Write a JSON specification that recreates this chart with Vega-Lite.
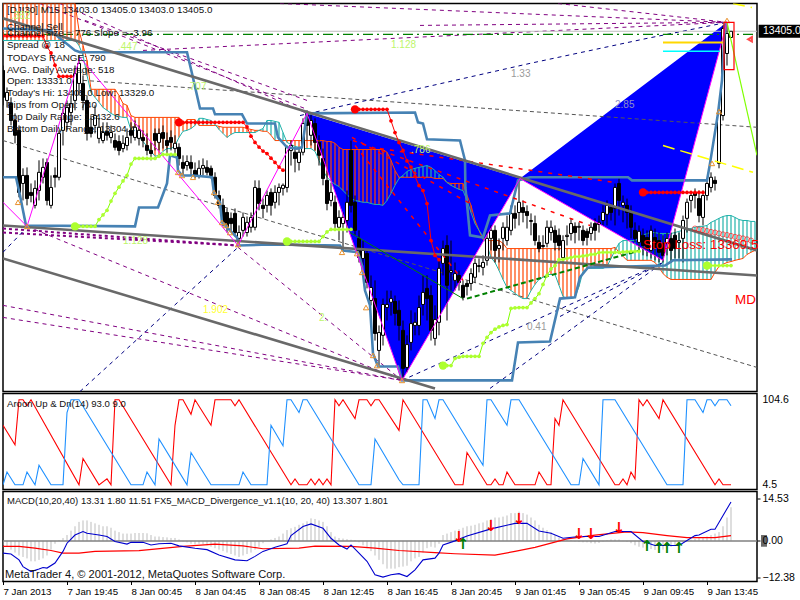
{"$schema":"https://vega.github.io/schema/vega-lite/v6.json","background":"white","padding":{"left":1,"top":2.5,"right":0,"bottom":0},"spacing":2,"bounds":"flush",
"config":{"view":{"stroke":"black","strokeWidth":1.5},"font":"Liberation Sans","axis":{"grid":false,"domain":false,"title":null,"labelFont":"Liberation Sans","labelColor":"black","tickColor":"black"}},
"datasets":{
"candles":[
{"b":0,"o":13392.3,"h":13393.9,"l":13381,"c":13383.6},{"b":1,"o":13382.6,"h":13386.8,"l":13380.3,"c":13385.2},{"b":2,"o":13381.6,"h":13383.6,"l":13374.5,"c":13376.1},{"b":3,"o":13376.1,"h":13378.4,"l":13368.7,"c":13371.3},{"b":4,"o":13372.9,"h":13374.5,"l":13351.2,"c":13352.8},{"b":5,"o":13355.7,"h":13360.6,"l":13350.2,"c":13358.3},{"b":6,"o":13358.3,"h":13360.9,"l":13348.6,"c":13350.8},{"b":7,"o":13352.8,"h":13355.7,"l":13349.6,"c":13351.8},{"b":8,"o":13348.6,"h":13356.7,"l":13347.6,"c":13354.1},{"b":9,"o":13353.4,"h":13363.2,"l":13350.2,"c":13359.3},
{"b":10,"o":13357.7,"h":13363.8,"l":13355.7,"c":13360.9},{"b":11,"o":13362.5,"h":13363.8,"l":13348.6,"c":13350.2},{"b":12,"o":13348.6,"h":13358.3,"l":13347.6,"c":13354.4},{"b":13,"o":13358.3,"h":13360.9,"l":13354.4,"c":13357.7},{"b":14,"o":13357.7,"h":13372.9,"l":13356.7,"c":13371.9},{"b":15,"o":13372.9,"h":13380,"l":13368,"c":13378.4},{"b":16,"o":13375.5,"h":13382.6,"l":13372.9,"c":13380.3},{"b":17,"o":13378.7,"h":13384.2,"l":13374.5,"c":13381.6},{"b":18,"o":13382.6,"h":13393.9,"l":13379.4,"c":13391.3},{"b":19,"o":13388.1,"h":13397.2,"l":13384.2,"c":13394.6},
{"b":20,"o":13388.1,"h":13390.7,"l":13379.4,"c":13382.6},{"b":21,"o":13382.6,"h":13384.2,"l":13369.6,"c":13371.9},{"b":22,"o":13373.9,"h":13377.7,"l":13370.6,"c":13371.9},{"b":23,"o":13374.5,"h":13381,"l":13371.9,"c":13377.7},{"b":24,"o":13370.3,"h":13376.8,"l":13368.7,"c":13373.9},{"b":25,"o":13369.6,"h":13375.5,"l":13368.7,"c":13372.2},{"b":26,"o":13372.6,"h":13375.5,"l":13369.6,"c":13371.3},{"b":27,"o":13370.6,"h":13374.5,"l":13368.7,"c":13372.2},{"b":28,"o":13369.6,"h":13371.9,"l":13366.4,"c":13367.4},{"b":29,"o":13369.3,"h":13371.3,"l":13364.8,"c":13366.4},
{"b":30,"o":13367,"h":13371.3,"l":13365.8,"c":13368.7},{"b":31,"o":13368,"h":13373.5,"l":13366.4,"c":13370.6},{"b":32,"o":13372.9,"h":13375.5,"l":13368.7,"c":13371.3},{"b":33,"o":13370.6,"h":13376.1,"l":13369.6,"c":13373.9},{"b":34,"o":13370.3,"h":13374.5,"l":13368,"c":13372.9},{"b":35,"o":13370.6,"h":13372.9,"l":13367.4,"c":13369.6},{"b":36,"o":13368,"h":13371.9,"l":13364.8,"c":13366.4},{"b":37,"o":13366.4,"h":13369,"l":13363.2,"c":13365.4},{"b":38,"o":13371.9,"h":13373.5,"l":13366.4,"c":13369.6},{"b":39,"o":13369,"h":13373.5,"l":13366.4,"c":13371.9},
{"b":40,"o":13372.2,"h":13374.5,"l":13367,"c":13370.3},{"b":41,"o":13369.6,"h":13372.2,"l":13364.8,"c":13368},{"b":42,"o":13370.6,"h":13372.9,"l":13366.4,"c":13369},{"b":43,"o":13367,"h":13371.3,"l":13364.8,"c":13368.7},{"b":44,"o":13367.4,"h":13368.7,"l":13361.5,"c":13363.8},{"b":45,"o":13362.5,"h":13364.8,"l":13358.3,"c":13360.6},{"b":46,"o":13361.5,"h":13364.8,"l":13359.9,"c":13362.8},{"b":47,"o":13362.5,"h":13364.8,"l":13358.3,"c":13360.6},{"b":48,"o":13359.9,"h":13362.5,"l":13357.3,"c":13358.3},{"b":49,"o":13358.3,"h":13363.2,"l":13357.3,"c":13360.6},
{"b":50,"o":13360.6,"h":13363.8,"l":13358.3,"c":13361.5},{"b":51,"o":13360.9,"h":13363.2,"l":13358.3,"c":13359.3},{"b":52,"o":13360.6,"h":13361.5,"l":13357.3,"c":13358.3},{"b":53,"o":13357.7,"h":13359.3,"l":13350.8,"c":13351.8},{"b":54,"o":13351.8,"h":13353.4,"l":13347.6,"c":13348.6},{"b":55,"o":13348.6,"h":13350.8,"l":13341.8,"c":13343.1},{"b":56,"o":13346.3,"h":13347.6,"l":13339.8,"c":13341.5},{"b":57,"o":13344.4,"h":13346.3,"l":13340.5,"c":13342.7},{"b":58,"o":13346,"h":13347.6,"l":13338.5,"c":13339.8},{"b":59,"o":13337.9,"h":13342.1,"l":13335.9,"c":13339.8},
{"b":60,"o":13340.5,"h":13346.3,"l":13338.5,"c":13344.7},{"b":61,"o":13339.8,"h":13345,"l":13338.5,"c":13343.1},{"b":62,"o":13341.5,"h":13346.3,"l":13339.8,"c":13344.7},{"b":63,"o":13341.5,"h":13356.7,"l":13340.5,"c":13354.4},{"b":64,"o":13354.1,"h":13356.7,"l":13347,"c":13349.2},{"b":65,"o":13348.6,"h":13350.8,"l":13344.4,"c":13347.6},{"b":66,"o":13348.6,"h":13353.4,"l":13346.3,"c":13351.8},{"b":67,"o":13352.8,"h":13354.1,"l":13345.3,"c":13348.6},{"b":68,"o":13349.6,"h":13355.1,"l":13347.6,"c":13352.8},{"b":69,"o":13352.8,"h":13355.7,"l":13348.6,"c":13354.4},
{"b":70,"o":13354.1,"h":13355.7,"l":13351.8,"c":13355.1},{"b":71,"o":13354.4,"h":13368,"l":13352.8,"c":13367.4},{"b":72,"o":13366.4,"h":13369.6,"l":13361.5,"c":13368},{"b":73,"o":13365.8,"h":13367,"l":13359.3,"c":13363.8},{"b":74,"o":13362.5,"h":13367,"l":13359.9,"c":13365.8},{"b":75,"o":13365.8,"h":13376.8,"l":13364.8,"c":13375.1},{"b":76,"o":13378.4,"h":13379.4,"l":13369.6,"c":13374.5},{"b":77,"o":13371.3,"h":13378.7,"l":13368,"c":13376.1},{"b":78,"o":13375.1,"h":13376.8,"l":13366.4,"c":13369},{"b":79,"o":13369,"h":13371.3,"l":13361.5,"c":13364.8},
{"b":80,"o":13363.8,"h":13367,"l":13355.1,"c":13357.3},{"b":81,"o":13356.7,"h":13359.9,"l":13347,"c":13349.2},{"b":82,"o":13350.2,"h":13356,"l":13348.3,"c":13352.8},{"b":83,"o":13349.6,"h":13351.8,"l":13340.5,"c":13342.7},{"b":84,"o":13341.5,"h":13347,"l":13337.2,"c":13344.7},{"b":85,"o":13342.7,"h":13346.3,"l":13334,"c":13344.7},{"b":86,"o":13343.7,"h":13353.4,"l":13339.8,"c":13349.6},{"b":87,"o":13366.4,"h":13369.6,"l":13346.3,"c":13348.6},{"b":88,"o":13349.6,"h":13351.8,"l":13338.9,"c":13340.5},{"b":89,"o":13337.9,"h":13340.5,"l":13330.1,"c":13331.7},
{"b":90,"o":13331.4,"h":13337.2,"l":13329.1,"c":13334},{"b":91,"o":13333,"h":13334,"l":13321.7,"c":13323.6},{"b":92,"o":13317.8,"h":13325.9,"l":13316.2,"c":13322},{"b":93,"o":13318.4,"h":13324.3,"l":13304.8,"c":13307.1},{"b":94,"o":13301.6,"h":13309.7,"l":13296.7,"c":13307.4},{"b":95,"o":13306.5,"h":13318.4,"l":13303.2,"c":13316.5},{"b":96,"o":13315.5,"h":13321,"l":13311.3,"c":13316.5},{"b":97,"o":13317.2,"h":13321,"l":13312.9,"c":13318.4},{"b":98,"o":13317.5,"h":13319.4,"l":13309.7,"c":13313.6},{"b":99,"o":13314.6,"h":13317.8,"l":13304.8,"c":13309.7},
{"b":100,"o":13308.1,"h":13311.3,"l":13292.5,"c":13295.8},{"b":101,"o":13296.1,"h":13306.5,"l":13294.5,"c":13303.5},{"b":102,"o":13304.2,"h":13314.6,"l":13301.6,"c":13310.3},{"b":103,"o":13309.7,"h":13313.9,"l":13306.5,"c":13310.7},{"b":104,"o":13309.7,"h":13319.4,"l":13306.5,"c":13315.5},{"b":105,"o":13316.5,"h":13325.9,"l":13312.9,"c":13320.4},{"b":106,"o":13321.7,"h":13325.9,"l":13311.3,"c":13318.4},{"b":107,"o":13319.4,"h":13322.7,"l":13304.8,"c":13308.1},{"b":108,"o":13305.5,"h":13316.2,"l":13303.2,"c":13311.6},{"b":109,"o":13310.7,"h":13330.8,"l":13306.5,"c":13328.2},
{"b":110,"o":13329.8,"h":13337.2,"l":13325.9,"c":13334.6},{"b":111,"o":13335.6,"h":13338.9,"l":13311.3,"c":13322.7},{"b":112,"o":13326.9,"h":13337.2,"l":13321,"c":13327.5},{"b":113,"o":13324.3,"h":13330.1,"l":13321,"c":13326.5},{"b":114,"o":13325.9,"h":13327.5,"l":13321,"c":13323.6},{"b":115,"o":13322.7,"h":13324.3,"l":13317.8,"c":13318.8},{"b":116,"o":13323.3,"h":13324.3,"l":13319.4,"c":13322.3},{"b":117,"o":13323.3,"h":13328.2,"l":13321,"c":13326.5},{"b":118,"o":13325.3,"h":13331.4,"l":13323.6,"c":13329.8},{"b":119,"o":13328.8,"h":13331.4,"l":13326.9,"c":13329.1},
{"b":120,"o":13328.5,"h":13332.4,"l":13325.9,"c":13330.1},{"b":121,"o":13330.8,"h":13339.8,"l":13329.1,"c":13337.9},{"b":122,"o":13337.9,"h":13342.1,"l":13334,"c":13340.5},{"b":123,"o":13340.5,"h":13342.1,"l":13330.1,"c":13334},{"b":124,"o":13334.6,"h":13337.9,"l":13330.1,"c":13335.6},{"b":125,"o":13337.9,"h":13343.1,"l":13334,"c":13341.5},{"b":126,"o":13337.2,"h":13345.3,"l":13335.6,"c":13341.5},{"b":127,"o":13340.5,"h":13348.6,"l":13338.9,"c":13346},{"b":128,"o":13346,"h":13348.6,"l":13341.1,"c":13344.4},{"b":129,"o":13346.3,"h":13356.7,"l":13342.1,"c":13349.6},
{"b":130,"o":13347.9,"h":13350.2,"l":13343.1,"c":13346.3},{"b":131,"o":13346.6,"h":13348.6,"l":13341.1,"c":13345.3},{"b":132,"o":13343.4,"h":13346,"l":13338.9,"c":13343.7},{"b":133,"o":13342.7,"h":13345.3,"l":13335.6,"c":13337.2},{"b":134,"o":13336.6,"h":13338.9,"l":13333.4,"c":13334.6},{"b":135,"o":13335.6,"h":13338.9,"l":13334.6,"c":13335.3},{"b":136,"o":13336.3,"h":13343.7,"l":13335,"c":13341.5},{"b":137,"o":13339.8,"h":13343.7,"l":13337.2,"c":13341.5},{"b":138,"o":13340.5,"h":13342.1,"l":13334,"c":13336.6},{"b":139,"o":13338.9,"h":13341.1,"l":13334,"c":13335.6},
{"b":140,"o":13331.7,"h":13338.9,"l":13330.1,"c":13337.2},{"b":141,"o":13338.5,"h":13342.1,"l":13335.6,"c":13338.9},{"b":142,"o":13339.5,"h":13344.4,"l":13337.2,"c":13342.7},{"b":143,"o":13341.8,"h":13343.1,"l":13336.3,"c":13339.8},{"b":144,"o":13341.5,"h":13343.1,"l":13337.2,"c":13341.8},{"b":145,"o":13340.5,"h":13342.1,"l":13335.6,"c":13337.2},{"b":146,"o":13340.2,"h":13341.1,"l":13335.6,"c":13338.2},{"b":147,"o":13339.5,"h":13343.1,"l":13337.2,"c":13341.5},{"b":148,"o":13342.7,"h":13344.4,"l":13337.2,"c":13340.5},{"b":149,"o":13342.4,"h":13345.3,"l":13339.8,"c":13343.1},
{"b":150,"o":13343.7,"h":13348.6,"l":13342.1,"c":13346.3},{"b":151,"o":13345.7,"h":13350.2,"l":13342.1,"c":13348.6},{"b":152,"o":13347.9,"h":13349.2,"l":13343.7,"c":13346.3},{"b":153,"o":13347.6,"h":13355.7,"l":13342.1,"c":13354.4},{"b":154,"o":13355.7,"h":13357.3,"l":13345.3,"c":13350.2},{"b":155,"o":13348.6,"h":13351.8,"l":13343.1,"c":13349.6},{"b":156,"o":13348.6,"h":13350.8,"l":13341.1,"c":13346.3},{"b":157,"o":13346.3,"h":13348.6,"l":13337.9,"c":13341.5},{"b":158,"o":13340.5,"h":13343.1,"l":13336.6,"c":13337.9},{"b":159,"o":13336.6,"h":13342.1,"l":13334,"c":13340.2},
{"b":160,"o":13338.9,"h":13341.1,"l":13332.4,"c":13335.6},{"b":161,"o":13338.2,"h":13340.5,"l":13332.1,"c":13334.6},{"b":162,"o":13334,"h":13342.1,"l":13331.4,"c":13340.5},{"b":163,"o":13338.2,"h":13341.1,"l":13330.8,"c":13335},{"b":164,"o":13337.2,"h":13339.8,"l":13330.1,"c":13333.4},{"b":165,"o":13336.3,"h":13338.9,"l":13330.1,"c":13332.4},{"b":166,"o":13336.3,"h":13339.8,"l":13332.4,"c":13337.9},{"b":167,"o":13337.9,"h":13339.8,"l":13330.1,"c":13334},{"b":168,"o":13338.9,"h":13341.1,"l":13331.4,"c":13334.6},{"b":169,"o":13336.6,"h":13339.8,"l":13331.4,"c":13337.2},
{"b":170,"o":13337.9,"h":13345.3,"l":13330.1,"c":13343.7},{"b":171,"o":13344.4,"h":13350.8,"l":13339.8,"c":13349.6},{"b":172,"o":13350.2,"h":13352.8,"l":13346.3,"c":13351.8},{"b":173,"o":13352.8,"h":13354.1,"l":13347.6,"c":13351.8},{"b":174,"o":13350.8,"h":13353.4,"l":13343.1,"c":13345.3},{"b":175,"o":13344.7,"h":13353.4,"l":13342.1,"c":13351.8},{"b":176,"o":13351.8,"h":13357.3,"l":13350.2,"c":13355.7},{"b":177,"o":13354.4,"h":13359.3,"l":13352.8,"c":13357.7},{"b":178,"o":13356.7,"h":13358,"l":13353.4,"c":13355.7},{"b":179,"o":13362.2,"h":13381,"l":13360.6,"c":13379.4},
{"b":180,"o":13377.7,"h":13406.9,"l":13376.1,"c":13405.9},{"b":181,"o":13397.8,"h":13407.9,"l":13393.9,"c":13404.3},{"b":182,"o":13403,"h":13405,"l":13403,"c":13405}],
"cloud":[
{"b":0,"a":13414,"t":13402},{"b":1,"a":13414,"t":13402},{"b":2,"a":13414,"t":13402},{"b":3,"a":13414,"t":13402},{"b":4,"a":13414,"t":13402},{"b":5,"a":13414,"t":13402},{"b":6,"a":13414,"t":13402},{"b":7,"a":13414,"t":13402},{"b":8,"a":13414,"t":13402},{"b":9,"a":13414,"t":13402},{"b":10,"a":13414,"t":13402},{"b":11,"a":13414,"t":13402},{"b":12,"a":13414,"t":13402},{"b":13,"a":13414,"t":13402},{"b":14,"a":13414,"t":13402},{"b":15,"a":13414,"t":13402},{"b":16,"a":13414,"t":13402},{"b":17,"a":13414,"t":13402},{"b":18,"a":13414,"t":13402},{"b":19,"a":13405.3,"t":13400.4},{"b":20,"a":13400.4,"t":13397.2},{"b":21,"a":13395.6,"t":13390.7},{"b":22,"a":13386.2,"t":13385.2},{"b":23,"a":13386.2,"t":13383.6},{"b":24,"a":13386.2,"t":13382},{"b":25,"a":13386.2,"t":13380.3},{"b":26,"a":13386.2,"t":13379.4},{"b":27,"a":13386.2,"t":13378.4},{"b":28,"a":13386.2,"t":13377.7},{"b":29,"a":13384.2,"t":13377.4},{"b":30,"a":13381.6,"t":13377.1},{"b":31,"a":13381,"t":13377.1},{"b":32,"a":13377.7,"t":13372.9},{"b":33,"a":13377.1,"t":13370.9},{"b":34,"a":13377.1,"t":13370.6},{"b":35,"a":13377.1,"t":13369.3},{"b":36,"a":13377.1,"t":13367.7},{"b":37,"a":13377.1,"t":13366.1},{"b":38,"a":13377.1,"t":13364.5},{"b":39,"a":13377.1,"t":13364.8},{"b":40,"a":13377.1,"t":13366.1},{"b":41,"a":13377.1,"t":13367},{"b":42,"a":13377.1,"t":13367},{"b":43,"a":13377.1,"t":13368},{"b":44,"a":13377.1,"t":13370.6},{"b":45,"a":13374.5,"t":13372.6},{"b":46,"a":13376.4,"t":13372.9},{"b":47,"a":13376.4,"t":13373.5},{"b":48,"a":13376.4,"t":13374.5},{"b":49,"a":13374.5,"t":13376.8},{"b":50,"a":13374.5,"t":13376.8},{"b":51,"a":13374.5,"t":13376.4},{"b":52,"a":13374.5,"t":13376.1},{"b":53,"a":13374.5,"t":13374.8},{"b":54,"a":13374.2,"t":13373.2},{"b":55,"a":13373.9,"t":13371.9},{"b":56,"a":13373.9,"t":13370.6},{"b":57,"a":13373.9,"t":13371.6},{"b":58,"a":13373.9,"t":13372.2},{"b":59,"a":13373.9,"t":13372.2},{"b":60,"a":13373.9,"t":13372.2},{"b":61,"a":13373.5,"t":13372.2},{"b":62,"a":13373.2,"t":13372.2},{"b":63,"a":13372.9,"t":13372.2},{"b":64,"a":13372.9,"t":13372.9},{"b":65,"a":13372.6,"t":13373.5},{"b":66,"a":13372.6,"t":13376.1},{"b":67,"a":13371.3,"t":13376.1},{"b":68,"a":13369.6,"t":13375.8},{"b":69,"a":13369.6,"t":13375.5},{"b":70,"a":13369.6,"t":13372.2},{"b":71,"a":13369.6,"t":13369},{"b":72,"a":13369.6,"t":13368.3},{"b":73,"a":13369.6,"t":13367.7},{"b":74,"a":13369.6,"t":13367.4},{"b":75,"a":13369.6,"t":13367},{"b":76,"a":13369.6,"t":13367},{"b":77,"a":13369.6,"t":13367},{"b":78,"a":13369.6,"t":13366.1},{"b":79,"a":13369.6,"t":13363.2},{"b":80,"a":13369.6,"t":13359.9},{"b":81,"a":13369.3,"t":13357.7},{"b":82,"a":13369.3,"t":13356.4},{"b":83,"a":13368.7,"t":13355.4},{"b":84,"a":13367.4,"t":13354.7},{"b":85,"a":13366.7,"t":13353.4},{"b":86,"a":13366.7,"t":13352.1},{"b":87,"a":13366.7,"t":13350.8},{"b":88,"a":13366.7,"t":13350.2},{"b":89,"a":13366.7,"t":13349.9},{"b":90,"a":13366.7,"t":13349.6},{"b":91,"a":13366.7,"t":13349.6},{"b":92,"a":13366.7,"t":13349.2},{"b":93,"a":13366.7,"t":13348.9},{"b":94,"a":13366.7,"t":13348.9},{"b":95,"a":13366.7,"t":13348.6},{"b":96,"a":13365.8,"t":13350.2},{"b":97,"a":13363.2,"t":13352.5},{"b":98,"a":13359.9,"t":13355.1},{"b":99,"a":13357.7,"t":13357.3},{"b":100,"a":13357.7,"t":13358.3},{"b":101,"a":13357.7,"t":13359.6},{"b":102,"a":13357.7,"t":13360.2},{"b":103,"a":13357.7,"t":13360.6},{"b":104,"a":13357.7,"t":13360.9},{"b":105,"a":13357.7,"t":13361.2},{"b":106,"a":13357.7,"t":13361.5},{"b":107,"a":13357.7,"t":13360.9},{"b":108,"a":13357.3,"t":13359.9},{"b":109,"a":13357.3,"t":13358.6},{"b":110,"a":13357.3,"t":13357.7},{"b":111,"a":13356,"t":13356},{"b":112,"a":13355.7,"t":13355.1},{"b":113,"a":13355.7,"t":13354.4},{"b":114,"a":13355.7,"t":13353.8},{"b":115,"a":13355.7,"t":13353.4},{"b":116,"a":13351.8,"t":13350.2},{"b":117,"a":13348.6,"t":13346.3},{"b":118,"a":13343.7,"t":13342.7},{"b":119,"a":13340.5,"t":13340.5},{"b":120,"a":13337.6,"t":13338.5},{"b":121,"a":13337.2,"t":13335.6},{"b":122,"a":13337.2,"t":13331.7},{"b":123,"a":13337.2,"t":13330.1},{"b":124,"a":13337.2,"t":13327.5},{"b":125,"a":13336.3,"t":13324.6},{"b":126,"a":13334.6,"t":13322},{"b":127,"a":13334.6,"t":13321},{"b":128,"a":13334.6,"t":13320.1},{"b":129,"a":13334.6,"t":13319.1},{"b":130,"a":13334.6,"t":13318.4},{"b":131,"a":13334.6,"t":13318.4},{"b":132,"a":13334.6,"t":13321},{"b":133,"a":13334.6,"t":13323},{"b":134,"a":13334.6,"t":13324.6},{"b":135,"a":13334.6,"t":13325.3},{"b":136,"a":13334.6,"t":13326.2},{"b":137,"a":13334.6,"t":13326.2},{"b":138,"a":13334.6,"t":13326.2},{"b":139,"a":13334.6,"t":13322.7},{"b":140,"a":13334.6,"t":13319.1},{"b":141,"a":13334.6,"t":13318.4},{"b":142,"a":13334.6,"t":13318.4},{"b":143,"a":13334.6,"t":13318.8},{"b":144,"a":13334.6,"t":13322.3},{"b":145,"a":13334.6,"t":13327.2},{"b":146,"a":13334.6,"t":13328.2},{"b":147,"a":13334.6,"t":13328.2},{"b":148,"a":13334.6,"t":13328.2},{"b":149,"a":13334.6,"t":13328.2},{"b":150,"a":13334.6,"t":13328.2},{"b":151,"a":13334.6,"t":13328.8},{"b":152,"a":13334.6,"t":13331.4},{"b":153,"a":13335,"t":13334},{"b":154,"a":13333.4,"t":13336.3},{"b":155,"a":13332.1,"t":13337.2},{"b":156,"a":13330.8,"t":13337.2},{"b":157,"a":13330.8,"t":13337.2},{"b":158,"a":13330.8,"t":13337.2},{"b":159,"a":13330.8,"t":13337.9},{"b":160,"a":13330.8,"t":13338.9},{"b":161,"a":13330.8,"t":13339.5},{"b":162,"a":13330.8,"t":13339.8},{"b":163,"a":13330.1,"t":13339.8},{"b":164,"a":13328.5,"t":13339.5},{"b":165,"a":13326.5,"t":13339.5},{"b":166,"a":13325.3,"t":13339.5},{"b":167,"a":13324.6,"t":13339.5},{"b":168,"a":13324.6,"t":13339.8},{"b":169,"a":13324.6,"t":13340.2},{"b":170,"a":13324.6,"t":13340.5},{"b":171,"a":13324.6,"t":13340.8},{"b":172,"a":13324.6,"t":13341.1},{"b":173,"a":13324.6,"t":13341.5},{"b":174,"a":13324.6,"t":13341.8},{"b":175,"a":13324.6,"t":13341.8},{"b":176,"a":13324.6,"t":13342.1},{"b":177,"a":13324.6,"t":13343.1},{"b":178,"a":13326.9,"t":13343.7},{"b":179,"a":13328.8,"t":13344.4},{"b":180,"a":13329.5,"t":13345},{"b":181,"a":13330.1,"t":13345.3},{"b":182,"a":13330.4,"t":13345.3},{"b":183,"a":13330.8,"t":13344.7},{"b":184,"a":13331.1,"t":13344},{"b":185,"a":13331.4,"t":13343.7},{"b":186,"a":13332.7,"t":13343.7},{"b":187,"a":13333.4,"t":13343.4},{"b":188,"a":13334,"t":13343.4}],
"lines":[
{"g":"gray","s":"A","b":0,"p":13409.2},{"g":"gray","s":"A","b":188.5,"p":13334},{"g":"gray","s":"B","b":0,"p":13342.1},{"g":"gray","s":"B","b":188.5,"p":13325.9},{"g":"gray","s":"C","b":0,"p":13331.4},{"g":"gray","s":"C","b":108,"p":13289.3},
{"g":"steel","s":"lo","b":0,"p":13357.7},{"g":"steel","s":"lo","b":3.25,"p":13357.7},{"g":"steel","s":"lo","b":4.25,"p":13351.8},{"g":"steel","s":"lo","b":5.75,"p":13342.1},{"g":"steel","s":"lo","b":33,"p":13341.8},{"g":"steel","s":"lo","b":34,"p":13347.9},{"g":"steel","s":"lo","b":38.75,"p":13347.9},{"g":"steel","s":"lo","b":41,"p":13355.7},{"g":"steel","s":"lo","b":41.75,"p":13364.8},{"g":"steel","s":"lo","b":43.5,"p":13364.1},{"g":"steel","s":"lo","b":43.75,"p":13359.9},{"g":"steel","s":"lo","b":44.75,"p":13358.3},{"g":"steel","s":"lo","b":47.5,"p":13358.3},{"g":"steel","s":"lo","b":52.25,"p":13357.7},{"g":"steel","s":"lo","b":52.75,"p":13352.5},{"g":"steel","s":"lo","b":54.25,"p":13349.6},{"g":"steel","s":"lo","b":54.75,"p":13343.1},{"g":"steel","s":"lo","b":56.75,"p":13340.5},{"g":"steel","s":"lo","b":58.5,"p":13338.2},{"g":"steel","s":"lo","b":59,"p":13335.6},{"g":"steel","s":"lo","b":66.75,"p":13335.9},{"g":"steel","s":"lo","b":84.25,"p":13335.6},{"g":"steel","s":"lo","b":85,"p":13334},{"g":"steel","s":"lo","b":88.75,"p":13333.4},{"g":"steel","s":"lo","b":89.75,"p":13329.1},{"g":"steel","s":"lo","b":90.5,"p":13321},{"g":"steel","s":"lo","b":91.75,"p":13316.2},{"g":"steel","s":"lo","b":92.5,"p":13300.6},{"g":"steel","s":"lo","b":93.75,"p":13296.4},{"g":"steel","s":"lo","b":98.75,"p":13296.4},{"g":"steel","s":"lo","b":99.75,"p":13291.9},{"g":"steel","s":"lo","b":127.25,"p":13291.9},{"g":"steel","s":"lo","b":128.75,"p":13304.2},{"g":"steel","s":"lo","b":136.75,"p":13304.5},{"g":"steel","s":"lo","b":139.25,"p":13318.4},{"g":"steel","s":"lo","b":143,"p":13318.8},{"g":"steel","s":"lo","b":144.25,"p":13325.3},{"g":"steel","s":"lo","b":146.25,"p":13328.5},{"g":"steel","s":"lo","b":165.5,"p":13329.1},{"g":"steel","s":"lo","b":167.5,"p":13330.8},{"g":"steel","s":"lo","b":182.25,"p":13331.1},
{"g":"steel","s":"hi","b":0,"p":13405.9},{"g":"steel","s":"hi","b":11.75,"p":13405.3},{"g":"steel","s":"hi","b":18,"p":13398.8},{"g":"steel","s":"hi","b":19.25,"p":13398.2},{"g":"steel","s":"hi","b":46,"p":13398.2},{"g":"steel","s":"hi","b":47.25,"p":13391.3},{"g":"steel","s":"hi","b":49.25,"p":13380},{"g":"steel","s":"hi","b":52.5,"p":13380},{"g":"steel","s":"hi","b":53,"p":13378.1},{"g":"steel","s":"hi","b":59.75,"p":13378.1},{"g":"steel","s":"hi","b":61,"p":13375.1},{"g":"steel","s":"hi","b":68,"p":13375.1},{"g":"steel","s":"hi","b":68.75,"p":13370.6},{"g":"steel","s":"hi","b":71,"p":13367.4},{"g":"steel","s":"hi","b":73.5,"p":13367},{"g":"steel","s":"hi","b":74.75,"p":13367.4},{"g":"steel","s":"hi","b":76,"p":13378.4},{"g":"steel","s":"hi","b":103,"p":13378.7},{"g":"steel","s":"hi","b":103.75,"p":13375.5},{"g":"steel","s":"hi","b":105,"p":13375.1},{"g":"steel","s":"hi","b":106,"p":13370},{"g":"steel","s":"hi","b":114.25,"p":13369.6},{"g":"steel","s":"hi","b":115.5,"p":13363.2},{"g":"steel","s":"hi","b":115.6,"p":13354.4},{"g":"steel","s":"hi","b":116.75,"p":13338.9},{"g":"steel","s":"hi","b":120,"p":13338.2},{"g":"steel","s":"hi","b":121.75,"p":13345.3},{"g":"steel","s":"hi","b":126.75,"p":13346},{"g":"steel","s":"hi","b":128.75,"p":13356.7},{"g":"steel","s":"hi","b":131.75,"p":13357.7},{"g":"steel","s":"hi","b":156.25,"p":13357.7},{"g":"steel","s":"hi","b":157.25,"p":13356.7},{"g":"steel","s":"hi","b":176,"p":13356.7},{"g":"steel","s":"hi","b":176.75,"p":13362.2},{"g":"steel","s":"hi","b":178.75,"p":13378.4},{"g":"steel","s":"hi","b":179.75,"p":13389.1},{"g":"steel","s":"hi","b":180.5,"p":13407.5},
{"g":"zig","s":"z","b":0,"p":13349.6},{"g":"zig","s":"z","b":6,"p":13341.8},{"g":"zig","s":"z","b":19.25,"p":13396.5},{"g":"zig","s":"z","b":58.75,"p":13335.6},{"g":"zig","s":"z","b":76,"p":13378.4},{"g":"zig","s":"z","b":99.75,"p":13291.9},{"g":"zig","s":"z","b":129.25,"p":13357.3},{"g":"zig","s":"z","b":165,"p":13330.8},{"g":"zig","s":"z","b":181,"p":13407.9},
{"g":"purple","s":"p1","b":9.25,"p":13414},{"g":"purple","s":"p1","b":76,"p":13379.7},{"g":"purple","s":"p2","b":14.25,"p":13414},{"g":"purple","s":"p2","b":76,"p":13378.4},{"g":"purple","s":"p3","b":20.5,"p":13408.5},{"g":"purple","s":"p3","b":76,"p":13382.6},{"g":"purple","s":"p4","b":0,"p":13316.2},{"g":"purple","s":"p4","b":99.75,"p":13291.9},{"g":"purple","s":"p5","b":0,"p":13312.3},{"g":"purple","s":"p5","b":99.75,"p":13291.9},{"g":"purple","s":"p6","b":6,"p":13341.8},{"g":"purple","s":"p6","b":99.75,"p":13291.9},{"g":"purple","s":"p7","b":58.75,"p":13335},{"g":"purple","s":"p7","b":99.75,"p":13291.9},{"g":"purple","s":"p10","b":69.25,"p":13414},{"g":"purple","s":"p10","b":181,"p":13407.9},{"g":"purple","s":"p11","b":138.75,"p":13414},{"g":"purple","s":"p11","b":181,"p":13407.9},{"g":"purple","s":"p12","b":35,"p":13398.8},{"g":"purple","s":"p12","b":181,"p":13407.9},{"g":"purple","s":"p14","b":104.25,"p":13406.9},{"g":"purple","s":"p14","b":181,"p":13407.9},
{"g":"purplethick","s":"p8","b":0,"p":13341.1},{"g":"purplethick","s":"p8","b":58.75,"p":13335.6},{"g":"purplethick","s":"p9","b":0,"p":13339.8},{"g":"purplethick","s":"p9","b":58.75,"p":13335.6},
{"g":"reddash","s":"r1","b":87.5,"p":13369.6},{"g":"reddash","s":"r1","b":146.75,"p":13342.1},{"g":"reddash","s":"r2","b":94.25,"p":13367},{"g":"reddash","s":"r2","b":153,"p":13356},{"g":"reddash","s":"r3","b":88,"p":13368},{"g":"reddash","s":"r3","b":115,"p":13324.3},{"g":"reddash","s":"r4","b":87.25,"p":13370.6},{"g":"reddash","s":"r4","b":116.75,"p":13349.2},
{"g":"navy","s":"n1","b":74.25,"p":13377.7},{"g":"navy","s":"n1","b":101.75,"p":13385.8},{"g":"navy","s":"n1","b":131.75,"p":13394.6},{"g":"navy","s":"n1","b":161,"p":13402.7},{"g":"navy","s":"n1","b":181,"p":13407.9},{"g":"navy","s":"n2","b":0,"p":13333.4},{"g":"navy","s":"n2","b":6,"p":13341.5},{"g":"navy","s":"n3","b":19.25,"p":13288.3},{"g":"navy","s":"n3","b":58.75,"p":13335},{"g":"navy","s":"n4","b":99.75,"p":13291.9},{"g":"navy","s":"n4","b":165,"p":13330.1},{"g":"navy","s":"n5","b":121.75,"p":13289.3},{"g":"navy","s":"n5","b":165,"p":13330.1},{"g":"navy","s":"n6","b":139.25,"p":13312.6},{"g":"navy","s":"n6","b":165,"p":13330.1},
{"g":"graydash","s":"g1","b":20,"p":13389.1},{"g":"graydash","s":"g1","b":188.5,"p":13373.9},{"g":"graydash","s":"g2","b":0,"p":13369.6},{"g":"graydash","s":"g2","b":188.5,"p":13296.1},
{"g":"green","s":"v1","b":86.75,"p":13339.8},{"g":"green","s":"v1","b":115,"p":13318.4},
{"g":"greendash","s":"v2","b":116,"p":13318.4},{"g":"greendash","s":"v2","b":159.25,"p":13334},
{"g":"gold","s":"y1","b":165,"p":13401.4},{"g":"gold","s":"y1","b":180,"p":13401.4},
{"g":"cyan","s":"c1","b":165,"p":13398.5},{"g":"cyan","s":"c1","b":179.25,"p":13398.5},
{"g":"yellow","s":"y2","b":165,"p":13368},{"g":"yellow","s":"y2","b":187.5,"p":13359.3},{"g":"yellow","s":"y3","b":182.5,"p":13414},{"g":"yellow","s":"y3","b":187.25,"p":13412.7},
{"g":"lime","s":"l1","b":181,"p":13407.9},{"g":"lime","s":"l1","b":188.5,"p":13364.8},
{"g":"silver","s":"h1","b":0,"p":13405},{"g":"silver","s":"h1","b":188.5,"p":13405},
{"g":"greenhoriz","s":"h2","b":0,"p":13404},{"g":"greenhoriz","s":"h2","b":188.5,"p":13404}],
"blue":[{"b":76,"p":13378.4,"q":13378.4},{"b":99.75,"p":13369,"q":13291.9},{"b":129.25,"p":13357.3,"q":13357.3},{"b":165,"p":13392.3,"q":13330.8},{"b":181,"p":13407.9,"q":13407.9}],
"dots":[
{"g":"lime","s":"a","b":18,"p":13341.8},{"g":"lime","s":"a","b":19,"p":13341.8},{"g":"lime","s":"a","b":20,"p":13341.8},{"g":"lime","s":"a","b":21,"p":13341.8},{"g":"lime","s":"a","b":22,"p":13341.8},{"g":"lime","s":"a","b":23,"p":13341.8},{"g":"lime","s":"a","b":24,"p":13344},{"g":"lime","s":"a","b":25,"p":13345.5},{"g":"lime","s":"a","b":26,"p":13347},{"g":"lime","s":"a","b":27,"p":13350},{"g":"lime","s":"a","b":28,"p":13352.5},{"g":"lime","s":"a","b":29,"p":13354.5},{"g":"lime","s":"a","b":30,"p":13356.5},{"g":"lime","s":"a","b":31,"p":13358.3},{"g":"lime","s":"a","b":32,"p":13362},{"g":"lime","s":"a","b":33,"p":13363.8},{"g":"lime","s":"a","b":34,"p":13363.8},{"g":"lime","s":"a","b":35,"p":13363.8},{"g":"lime","s":"a","b":36,"p":13363.8},{"g":"lime","s":"a","b":37,"p":13363.8},{"g":"lime","s":"a","b":38,"p":13363.8},{"g":"lime","s":"a","b":39,"p":13364.5},{"g":"lime","s":"a","b":40,"p":13365.1},{"g":"lime","s":"a","b":41,"p":13365.1},{"g":"lime","s":"a","b":42,"p":13365.1},{"g":"lime","s":"a","b":43,"p":13365.1},
{"g":"lime","s":"b","b":71,"p":13336.9},{"g":"lime","s":"b","b":72,"p":13336.9},{"g":"lime","s":"b","b":73,"p":13336.9},{"g":"lime","s":"b","b":74,"p":13336.9},{"g":"lime","s":"b","b":75,"p":13336.9},{"g":"lime","s":"b","b":76,"p":13336.9},{"g":"lime","s":"b","b":77,"p":13336.9},{"g":"lime","s":"b","b":78,"p":13336.9},{"g":"lime","s":"b","b":79,"p":13336.9},{"g":"lime","s":"b","b":80,"p":13338.5},{"g":"lime","s":"b","b":81,"p":13340},{"g":"lime","s":"b","b":82,"p":13340.8},{"g":"lime","s":"b","b":83,"p":13340.8},{"g":"lime","s":"b","b":84,"p":13340.8},{"g":"lime","s":"b","b":85,"p":13340.8},{"g":"lime","s":"b","b":86,"p":13340.8},{"g":"lime","s":"b","b":87,"p":13340.8},
{"g":"lime","s":"c","b":110,"p":13296.7},{"g":"lime","s":"c","b":111,"p":13296.7},{"g":"lime","s":"c","b":112,"p":13296.7},{"g":"lime","s":"c","b":113,"p":13299},{"g":"lime","s":"c","b":114,"p":13299.4},{"g":"lime","s":"c","b":115,"p":13299.7},{"g":"lime","s":"c","b":116,"p":13299.7},{"g":"lime","s":"c","b":117,"p":13299.7},{"g":"lime","s":"c","b":118,"p":13299.7},{"g":"lime","s":"c","b":119,"p":13299.7},{"g":"lime","s":"c","b":120,"p":13303.9},{"g":"lime","s":"c","b":121,"p":13305.8},{"g":"lime","s":"c","b":122,"p":13307.4},{"g":"lime","s":"c","b":123,"p":13308.5},{"g":"lime","s":"c","b":124,"p":13309.2},{"g":"lime","s":"c","b":125,"p":13309.7},{"g":"lime","s":"c","b":126,"p":13310},{"g":"lime","s":"c","b":127,"p":13315.2},{"g":"lime","s":"c","b":128,"p":13315.4},{"g":"lime","s":"c","b":129,"p":13315.5},{"g":"lime","s":"c","b":130,"p":13315.5},{"g":"lime","s":"c","b":131,"p":13315.5},{"g":"lime","s":"c","b":132,"p":13317},{"g":"lime","s":"c","b":133,"p":13318.4},{"g":"lime","s":"c","b":134,"p":13320},{"g":"lime","s":"c","b":135,"p":13323},{"g":"lime","s":"c","b":136,"p":13325.9},{"g":"lime","s":"c","b":137,"p":13328},{"g":"lime","s":"c","b":138,"p":13329.1},{"g":"lime","s":"c","b":139,"p":13331},{"g":"lime","s":"c","b":140,"p":13331.1},{"g":"lime","s":"c","b":141,"p":13331.4},{"g":"lime","s":"c","b":142,"p":13331.7},{"g":"lime","s":"c","b":143,"p":13332},{"g":"lime","s":"c","b":144,"p":13332},{"g":"lime","s":"c","b":145,"p":13332.2},{"g":"lime","s":"c","b":146,"p":13332.4},{"g":"lime","s":"c","b":147,"p":13332.7},{"g":"lime","s":"c","b":148,"p":13332.8},{"g":"lime","s":"c","b":149,"p":13333.3},{"g":"lime","s":"c","b":150,"p":13333.4},{"g":"lime","s":"c","b":151,"p":13333.4},{"g":"lime","s":"c","b":152,"p":13333.4},{"g":"lime","s":"c","b":153,"p":13333.4},{"g":"lime","s":"c","b":154,"p":13333.4},{"g":"lime","s":"c","b":155,"p":13333.5},{"g":"lime","s":"c","b":156,"p":13333.6},{"g":"lime","s":"c","b":157,"p":13333.7},{"g":"lime","s":"c","b":158,"p":13333.7},{"g":"lime","s":"c","b":159,"p":13333.7},
{"g":"lime","s":"d","b":176,"p":13329.1},{"g":"lime","s":"d","b":177,"p":13329.1},{"g":"lime","s":"d","b":178,"p":13329.1},{"g":"lime","s":"d","b":179,"p":13329.1},{"g":"lime","s":"d","b":180,"p":13329.1},{"g":"lime","s":"d","b":181,"p":13329.1},{"g":"lime","s":"d","b":182,"p":13329.1},
{"g":"red","s":"e","b":0,"p":13403.5},{"g":"red","s":"e","b":1,"p":13403.5},{"g":"red","s":"e","b":2,"p":13403.5},{"g":"red","s":"e","b":3,"p":13403.5},{"g":"red","s":"e","b":4,"p":13403.5},{"g":"red","s":"e","b":5,"p":13403.5},{"g":"red","s":"e","b":6,"p":13403.5},{"g":"red","s":"e","b":7,"p":13403.5},{"g":"red","s":"e","b":8,"p":13403.5},{"g":"red","s":"e","b":9,"p":13403.5},{"g":"red","s":"e","b":10,"p":13403.5},{"g":"red","s":"e","b":11,"p":13400},{"g":"red","s":"e","b":12,"p":13398},{"g":"red","s":"e","b":13,"p":13394},{"g":"red","s":"e","b":14,"p":13390.4},{"g":"red","s":"e","b":15,"p":13390.4},{"g":"red","s":"e","b":16,"p":13390.4},{"g":"red","s":"e","b":17,"p":13390.4},
{"g":"red","s":"f","b":44,"p":13375.5},{"g":"red","s":"f","b":45,"p":13375.5},{"g":"red","s":"f","b":46,"p":13375.5},{"g":"red","s":"f","b":47,"p":13375.5},{"g":"red","s":"f","b":48,"p":13375.5},{"g":"red","s":"f","b":49,"p":13375.5},{"g":"red","s":"f","b":50,"p":13375.5},{"g":"red","s":"f","b":51,"p":13375.5},{"g":"red","s":"f","b":52,"p":13375.5},{"g":"red","s":"f","b":53,"p":13375.5},{"g":"red","s":"f","b":54,"p":13375.5},{"g":"red","s":"f","b":55,"p":13375.5},{"g":"red","s":"f","b":56,"p":13375.5},{"g":"red","s":"f","b":57,"p":13375.5},{"g":"red","s":"f","b":58,"p":13375.5},{"g":"red","s":"f","b":59,"p":13375.5},{"g":"red","s":"f","b":60,"p":13375.5},{"g":"red","s":"f","b":61,"p":13374},{"g":"red","s":"f","b":62,"p":13371},{"g":"red","s":"f","b":63,"p":13369},{"g":"red","s":"f","b":64,"p":13367.5},{"g":"red","s":"f","b":65,"p":13366.2},{"g":"red","s":"f","b":66,"p":13365.4},{"g":"red","s":"f","b":67,"p":13363.9},{"g":"red","s":"f","b":68,"p":13362.5},{"g":"red","s":"f","b":69,"p":13361},{"g":"red","s":"f","b":70,"p":13360},
{"g":"red","s":"h","b":88,"p":13379.7},{"g":"red","s":"h","b":89,"p":13379.7},{"g":"red","s":"h","b":90,"p":13379.7},{"g":"red","s":"h","b":91,"p":13379.7},{"g":"red","s":"h","b":92,"p":13379.7},{"g":"red","s":"h","b":93,"p":13379.7},{"g":"red","s":"h","b":94,"p":13379.7},{"g":"red","s":"h","b":95,"p":13379.7},{"g":"red","s":"h","b":96,"p":13379.7},{"g":"red","s":"h","b":97,"p":13376},{"g":"red","s":"h","b":98,"p":13372.2},{"g":"red","s":"h","b":99,"p":13369},{"g":"red","s":"h","b":100,"p":13366.4},{"g":"red","s":"h","b":101,"p":13363},{"g":"red","s":"h","b":102,"p":13361},{"g":"red","s":"h","b":103,"p":13358},{"g":"red","s":"h","b":104,"p":13355},{"g":"red","s":"h","b":105,"p":13353.4},{"g":"red","s":"h","b":106,"p":13349.2},{"g":"red","s":"h","b":107,"p":13337.2},{"g":"red","s":"h","b":108,"p":13332.4},{"g":"red","s":"h","b":109,"p":13331},
{"g":"red","s":"i","b":160,"p":13352.8},{"g":"red","s":"i","b":161,"p":13352.8},{"g":"red","s":"i","b":162,"p":13352.8},{"g":"red","s":"i","b":163,"p":13352.8},{"g":"red","s":"i","b":164,"p":13352.8},{"g":"red","s":"i","b":165,"p":13352.8},{"g":"red","s":"i","b":166,"p":13352.8},{"g":"red","s":"i","b":167,"p":13352.8},{"g":"red","s":"i","b":168,"p":13352.8},{"g":"red","s":"i","b":169,"p":13352.8},{"g":"red","s":"i","b":170,"p":13352.8},{"g":"red","s":"i","b":171,"p":13352.8},{"g":"red","s":"i","b":172,"p":13352.8},{"g":"red","s":"i","b":173,"p":13352.8},{"g":"red","s":"i","b":174,"p":13352.8},{"g":"red","s":"i","b":175,"p":13352.8}],
"starts":[{"g":"lime","b":18,"p":13341.8},{"g":"lime","b":71,"p":13336.9},{"g":"lime","b":110,"p":13296.7},{"g":"lime","b":176,"p":13329.1},{"g":"red","b":44,"p":13375.5},{"g":"red","b":88,"p":13379.7},{"g":"red","b":160,"p":13352.8}],
"fractals":[{"b":3.75,"p":13349.6},{"b":6,"p":13341.8},{"b":43.75,"p":13359.3},{"b":44.75,"p":13358.3},{"b":47.5,"p":13357.7},{"b":52.75,"p":13352.8},{"b":53.75,"p":13349.6},{"b":54.75,"p":13343.1},{"b":55.75,"p":13342.1},{"b":56.75,"p":13339.8},{"b":58.75,"p":13335.9},{"b":84.75,"p":13333.4},{"b":88.5,"p":13333},{"b":89.75,"p":13326.9},{"b":90.75,"p":13315.5},{"b":92.5,"p":13300},{"b":93.5,"p":13296.7},{"b":99.75,"p":13291.9},{"b":177.25,"p":13362.2},{"b":179,"p":13379},{"b":181,"p":13408.5}],
"stops":[{"b":173,"p":13341.1},{"b":174,"p":13340.8},{"b":175,"p":13340.6},{"b":176,"p":13340.3},{"b":177,"p":13340},{"b":178,"p":13339.8},{"b":179,"p":13339.5},{"b":180,"p":13339.2},{"b":181,"p":13339},{"b":182,"p":13338.7},{"b":183,"p":13338.4},{"b":184,"p":13338.2},{"b":185,"p":13337.9},{"b":186,"p":13337.6},{"b":187,"p":13337.2}],
"info":[{"b":1,"p":13411.8,"t":"[DJI30] M15  13403.0 13405.0 13403.0 13405.0"},{"b":1,"p":13406.3,"t":"Channel Sell"},{"b":1,"p":13404.3,"t":"Channel size = 776  Slope = -3.96"},{"b":1,"p":13400.4,"t":"Spread @ 18"},{"b":1,"p":13396.5,"t":"TODAYS RANGE: 790"},{"b":1,"p":13392.6,"t":"AVG. Daily Average: 518"},{"b":1,"p":13388.8,"t":"Open: 13331.0"},{"b":1,"p":13384.9,"t":"Today's Hi: 13405.0  Low: 13329.0"},{"b":1,"p":13381,"t":"Pips from Open: 740"},{"b":1,"p":13377.1,"t":"Top Daily Range: 13432.6"},{"b":1,"p":13373.2,"t":"Bottom Daily Range: 13304.4"}],
"fibs":[{"b":2,"p":13410.1,"t":".382","k":"pale"},{"b":28.75,"p":13399.8,"t":".447","k":"pale"},{"b":46,"p":13386.8,"t":".707","k":"pale"},{"b":30,"p":13336.9,"t":"1.128","k":"pale"},{"b":50,"p":13314.6,"t":"1.902","k":"yellow"},{"b":79,"p":13312,"t":"2.","k":"pale"},{"b":102,"p":13366.4,"t":".786","k":"pale"},{"b":97,"p":13400.7,"t":"1.128","k":"pale"},{"b":127,"p":13391.3,"t":"1.33","k":"gray"},{"b":153,"p":13381,"t":"2.85","k":"dim"},{"b":131,"p":13309.1,"t":"0.41","k":"gray"}],
"aroon":[
{"s":"dn","b":0,"v":70},{"s":"dn","b":3,"v":47},{"s":"dn","b":4,"v":100},{"s":"dn","b":5,"v":100},{"s":"dn","b":6,"v":93},{"s":"dn","b":7,"v":100},{"s":"dn","b":19,"v":0},{"s":"dn","b":20,"v":31},{"s":"dn","b":24,"v":0},{"s":"dn","b":26,"v":7},{"s":"dn","b":27,"v":0},{"s":"dn","b":28,"v":100},{"s":"dn","b":29,"v":100},{"s":"dn","b":42,"v":0},{"s":"dn","b":43,"v":70},{"s":"dn","b":44,"v":100},{"s":"dn","b":45,"v":100},{"s":"dn","b":47,"v":83},{"s":"dn","b":48,"v":100},{"s":"dn","b":52,"v":70},{"s":"dn","b":53,"v":100},{"s":"dn","b":57,"v":100},{"s":"dn","b":58,"v":93},{"s":"dn","b":59,"v":100},{"s":"dn","b":72,"v":0},{"s":"dn","b":73,"v":7},{"s":"dn","b":74,"v":0},{"s":"dn","b":76,"v":0},{"s":"dn","b":77,"v":7},{"s":"dn","b":78,"v":0},{"s":"dn","b":79,"v":7},{"s":"dn","b":80,"v":0},{"s":"dn","b":81,"v":7},{"s":"dn","b":82,"v":0},{"s":"dn","b":83,"v":100},{"s":"dn","b":84,"v":93},{"s":"dn","b":85,"v":100},{"s":"dn","b":88,"v":78},{"s":"dn","b":89,"v":100},{"s":"dn","b":91,"v":100},{"s":"dn","b":92,"v":93},{"s":"dn","b":93,"v":100},{"s":"dn","b":94,"v":100},{"s":"dn","b":99,"v":64},{"s":"dn","b":100,"v":100},{"s":"dn","b":113,"v":0},{"s":"dn","b":115,"v":0},{"s":"dn","b":116,"v":38},{"s":"dn","b":121,"v":0},{"s":"dn","b":122,"v":0},{"s":"dn","b":123,"v":7},{"s":"dn","b":124,"v":0},{"s":"dn","b":125,"v":0},{"s":"dn","b":126,"v":15},{"s":"dn","b":128,"v":0},{"s":"dn","b":133,"v":0},{"s":"dn","b":134,"v":15},{"s":"dn","b":136,"v":0},{"s":"dn","b":137,"v":0},{"s":"dn","b":138,"v":78},{"s":"dn","b":139,"v":70},{"s":"dn","b":140,"v":100},{"s":"dn","b":153,"v":0},{"s":"dn","b":154,"v":0},{"s":"dn","b":155,"v":7},{"s":"dn","b":156,"v":0},{"s":"dn","b":157,"v":15},{"s":"dn","b":158,"v":7},{"s":"dn","b":159,"v":100},{"s":"dn","b":160,"v":93},{"s":"dn","b":161,"v":100},{"s":"dn","b":164,"v":78},{"s":"dn","b":165,"v":100},{"s":"dn","b":178,"v":0},{"s":"dn","b":179,"v":7},{"s":"dn","b":180,"v":0},{"s":"dn","b":182,"v":0},
{"s":"up","b":0,"v":0},{"s":"up","b":1,"v":15},{"s":"up","b":3,"v":0},{"s":"up","b":5,"v":0},{"s":"up","b":6,"v":15},{"s":"up","b":8,"v":0},{"s":"up","b":9,"v":23},{"s":"up","b":12,"v":0},{"s":"up","b":15,"v":0},{"s":"up","b":16,"v":85},{"s":"up","b":17,"v":100},{"s":"up","b":19,"v":100},{"s":"up","b":32,"v":0},{"s":"up","b":35,"v":0},{"s":"up","b":36,"v":15},{"s":"up","b":38,"v":0},{"s":"up","b":39,"v":54},{"s":"up","b":46,"v":0},{"s":"up","b":47,"v":38},{"s":"up","b":52,"v":0},{"s":"up","b":59,"v":0},{"s":"up","b":60,"v":15},{"s":"up","b":62,"v":0},{"s":"up","b":66,"v":0},{"s":"up","b":67,"v":70},{"s":"up","b":70,"v":46},{"s":"up","b":71,"v":100},{"s":"up","b":72,"v":100},{"s":"up","b":74,"v":85},{"s":"up","b":75,"v":100},{"s":"up","b":76,"v":100},{"s":"up","b":89,"v":0},{"s":"up","b":92,"v":0},{"s":"up","b":93,"v":54},{"s":"up","b":99,"v":6},{"s":"up","b":100,"v":0},{"s":"up","b":104,"v":0},{"s":"up","b":105,"v":100},{"s":"up","b":106,"v":100},{"s":"up","b":108,"v":78},{"s":"up","b":109,"v":100},{"s":"up","b":110,"v":100},{"s":"up","b":120,"v":23},{"s":"up","b":121,"v":100},{"s":"up","b":122,"v":100},{"s":"up","b":126,"v":70},{"s":"up","b":127,"v":100},{"s":"up","b":129,"v":100},{"s":"up","b":142,"v":0},{"s":"up","b":144,"v":0},{"s":"up","b":145,"v":31},{"s":"up","b":149,"v":0},{"s":"up","b":150,"v":100},{"s":"up","b":153,"v":100},{"s":"up","b":166,"v":0},{"s":"up","b":170,"v":0},{"s":"up","b":171,"v":100},{"s":"up","b":173,"v":100},{"s":"up","b":175,"v":85},{"s":"up","b":176,"v":100},{"s":"up","b":177,"v":100},{"s":"up","b":178,"v":93},{"s":"up","b":179,"v":100},{"s":"up","b":181,"v":100},{"s":"up","b":182,"v":93}],
"hist":[{"b":0,"v":-1.5},{"b":1,"v":-2},{"b":2,"v":-3},{"b":3,"v":-4},{"b":4,"v":-5},{"b":5,"v":-5.5},{"b":6,"v":-6},{"b":7,"v":-7},{"b":8,"v":-7},{"b":9,"v":-6.5},{"b":10,"v":-6},{"b":11,"v":-5},{"b":12,"v":-3},{"b":13,"v":-1},{"b":14,"v":0.3},{"b":15,"v":1},{"b":16,"v":2},{"b":17,"v":3.5},{"b":18,"v":5},{"b":19,"v":6.5},{"b":20,"v":7},{"b":21,"v":7},{"b":22,"v":6.5},{"b":23,"v":6},{"b":24,"v":5.5},{"b":25,"v":5},{"b":26,"v":5},{"b":27,"v":4.5},{"b":28,"v":3.5},{"b":29,"v":3},{"b":30,"v":2.5},{"b":31,"v":2.5},{"b":32,"v":2.5},{"b":33,"v":2.7},{"b":34,"v":2.7},{"b":35,"v":2.7},{"b":36,"v":2.6},{"b":37,"v":2},{"b":38,"v":1.5},{"b":39,"v":1.5},{"b":40,"v":1.3},{"b":41,"v":1.2},{"b":42,"v":1},{"b":43,"v":1},{"b":44,"v":0.5},{"b":45,"v":-0.2},{"b":46,"v":-0.5},{"b":47,"v":-1},{"b":48,"v":-1.2},{"b":49,"v":-1},{"b":50,"v":-1.1},{"b":51,"v":-1.5},{"b":52,"v":-2},{"b":53,"v":-2.5},{"b":54,"v":-3},{"b":55,"v":-3.5},{"b":56,"v":-4},{"b":57,"v":-4.5},{"b":58,"v":-5},{"b":59,"v":-5.5},{"b":60,"v":-5},{"b":61,"v":-4.5},{"b":62,"v":-4},{"b":63,"v":-3},{"b":64,"v":-2},{"b":65,"v":-0.8},{"b":66,"v":0},{"b":67,"v":0.5},{"b":68,"v":1},{"b":69,"v":1.5},{"b":70,"v":2.5},{"b":71,"v":3.7},{"b":72,"v":4.3},{"b":73,"v":4.8},{"b":74,"v":5.5},{"b":75,"v":6},{"b":76,"v":6.7},{"b":77,"v":7.7},{"b":78,"v":7.5},{"b":79,"v":7},{"b":80,"v":6.5},{"b":81,"v":5},{"b":82,"v":3},{"b":83,"v":1.5},{"b":84,"v":1},{"b":85,"v":0.8},{"b":86,"v":0.6},{"b":87,"v":0.4},{"b":88,"v":0.3},{"b":89,"v":-0.5},{"b":90,"v":-1.5},{"b":91,"v":-2.5},{"b":92,"v":-3.5},{"b":93,"v":-5},{"b":94,"v":-6.5},{"b":95,"v":-8},{"b":96,"v":-9.5},{"b":97,"v":-9.5},{"b":98,"v":-9.5},{"b":99,"v":-9},{"b":100,"v":-8.8},{"b":101,"v":-8.5},{"b":102,"v":-7},{"b":103,"v":-6},{"b":104,"v":-5.5},{"b":105,"v":-4},{"b":106,"v":-2.5},{"b":107,"v":-2},{"b":108,"v":-2.3},{"b":109,"v":-1},{"b":110,"v":2},{"b":111,"v":2.5},{"b":112,"v":3},{"b":113,"v":3.5},{"b":114,"v":4},{"b":115,"v":4.5},{"b":116,"v":5},{"b":117,"v":5.2},{"b":118,"v":5.5},{"b":119,"v":6},{"b":120,"v":6.3},{"b":121,"v":7},{"b":122,"v":7.5},{"b":123,"v":8},{"b":124,"v":8},{"b":125,"v":8.3},{"b":126,"v":8.7},{"b":127,"v":9.5},{"b":128,"v":9.5},{"b":129,"v":10},{"b":130,"v":9.5},{"b":131,"v":9},{"b":132,"v":8},{"b":133,"v":7},{"b":134,"v":5.5},{"b":135,"v":4.5},{"b":136,"v":3.7},{"b":137,"v":3},{"b":138,"v":2},{"b":139,"v":1.2},{"b":140,"v":0.7},{"b":141,"v":0.4},{"b":142,"v":0.2},{"b":143,"v":-0.2},{"b":144,"v":-0.4},{"b":145,"v":-0.5},{"b":146,"v":-0.5},{"b":147,"v":-0.8},{"b":148,"v":-0.9},{"b":149,"v":-0.7},{"b":150,"v":-0.2},{"b":151,"v":0.2},{"b":152,"v":0.5},{"b":153,"v":0.5},{"b":154,"v":0.5},{"b":155,"v":-0.1},{"b":156,"v":-0.3},{"b":157,"v":-0.8},{"b":158,"v":-1.5},{"b":159,"v":-2},{"b":160,"v":-2.3},{"b":161,"v":-2.5},{"b":162,"v":-2.8},{"b":163,"v":-3.1},{"b":164,"v":-3.3},{"b":165,"v":-3},{"b":166,"v":-2.7},{"b":167,"v":-2},{"b":168,"v":-1.5},{"b":169,"v":-0.8},{"b":170,"v":-0.3},{"b":171,"v":0.2},{"b":172,"v":0.4},{"b":173,"v":0.7},{"b":174,"v":1},{"b":175,"v":1.3},{"b":176,"v":1.5},{"b":177,"v":2},{"b":178,"v":2.5},{"b":179,"v":3},{"b":180,"v":5},{"b":181,"v":8},{"b":182,"v":11.51}],
"macd":[
{"s":"m","b":0,"v":-4.2},{"s":"m","b":2,"v":-4.5},{"s":"m","b":4,"v":-6.5},{"s":"m","b":5,"v":-8.8},{"s":"m","b":7,"v":-10.5},{"s":"m","b":9,"v":-9.6},{"s":"m","b":10,"v":-9.1},{"s":"m","b":11,"v":-9.3},{"s":"m","b":13,"v":-7.6},{"s":"m","b":15,"v":-3.6},{"s":"m","b":16,"v":-0.8},{"s":"m","b":18,"v":2},{"s":"m","b":20,"v":3.2},{"s":"m","b":21,"v":2.6},{"s":"m","b":24,"v":2},{"s":"m","b":26,"v":1.5},{"s":"m","b":28,"v":-0.2},{"s":"m","b":31,"v":-1.1},{"s":"m","b":32,"v":-0.5},{"s":"m","b":35,"v":-0.5},{"s":"m","b":37,"v":-1.4},{"s":"m","b":39,"v":-1},{"s":"m","b":42,"v":-0.8},{"s":"m","b":44,"v":-1.7},{"s":"m","b":48,"v":-2.5},{"s":"m","b":51,"v":-3},{"s":"m","b":54,"v":-4.8},{"s":"m","b":58,"v":-6.5},{"s":"m","b":61,"v":-6.8},{"s":"m","b":63,"v":-5.3},{"s":"m","b":65,"v":-3.6},{"s":"m","b":68,"v":-2.2},{"s":"m","b":71,"v":-1},{"s":"m","b":72,"v":1.8},{"s":"m","b":75,"v":4.9},{"s":"m","b":77,"v":5.8},{"s":"m","b":80,"v":4.3},{"s":"m","b":82,"v":0.9},{"s":"m","b":84,"v":-1.4},{"s":"m","b":86,"v":-2.8},{"s":"m","b":87,"v":-1.4},{"s":"m","b":89,"v":-4.2},{"s":"m","b":91,"v":-7},{"s":"m","b":93,"v":-11.6},{"s":"m","b":95,"v":-12.4},{"s":"m","b":97,"v":-11.6},{"s":"m","b":99,"v":-11.2},{"s":"m","b":101,"v":-12.2},{"s":"m","b":103,"v":-9.9},{"s":"m","b":105,"v":-6.5},{"s":"m","b":108,"v":-5.9},{"s":"m","b":109,"v":-4.2},{"s":"m","b":110,"v":-1.4},{"s":"m","b":113,"v":0},{"s":"m","b":116,"v":1.7},{"s":"m","b":122,"v":4.1},{"s":"m","b":128,"v":6},{"s":"m","b":131,"v":6},{"s":"m","b":134,"v":3.4},{"s":"m","b":137,"v":2.6},{"s":"m","b":140,"v":0.9},{"s":"m","b":144,"v":1.5},{"s":"m","b":149,"v":1.5},{"s":"m","b":153,"v":3.2},{"s":"m","b":157,"v":3.2},{"s":"m","b":160,"v":-0.2},{"s":"m","b":163,"v":-1.6},{"s":"m","b":169,"v":-1.6},{"s":"m","b":173,"v":1.8},{"s":"m","b":174,"v":2},{"s":"m","b":177,"v":4},{"s":"m","b":178,"v":4},{"s":"m","b":181,"v":11},{"s":"m","b":182,"v":13.31},
{"s":"sig","b":0,"v":-1.9},{"s":"sig","b":4,"v":-1.9},{"s":"sig","b":8,"v":-2.5},{"s":"sig","b":12,"v":-3.3},{"s":"sig","b":15,"v":-4.2},{"s":"sig","b":19,"v":-4.2},{"s":"sig","b":23,"v":-3.6},{"s":"sig","b":34,"v":-3.3},{"s":"sig","b":45,"v":-1.9},{"s":"sig","b":53,"v":-1.1},{"s":"sig","b":60,"v":-1.7},{"s":"sig","b":65,"v":-2.7},{"s":"sig","b":74,"v":-2.5},{"s":"sig","b":78,"v":-1.8},{"s":"sig","b":87,"v":-1.9},{"s":"sig","b":93,"v":-2.5},{"s":"sig","b":99,"v":-3.3},{"s":"sig","b":108,"v":-4},{"s":"sig","b":113,"v":-4.4},{"s":"sig","b":123,"v":-4.9},{"s":"sig","b":128,"v":-3.6},{"s":"sig","b":133,"v":-2.2},{"s":"sig","b":141,"v":0.7},{"s":"sig","b":148,"v":2},{"s":"sig","b":156,"v":3.1},{"s":"sig","b":160,"v":2.8},{"s":"sig","b":166,"v":1.8},{"s":"sig","b":171,"v":1.1},{"s":"sig","b":178,"v":1.1},{"s":"sig","b":182,"v":1.8}],
"arrows":[{"b":114,"v":1.5,"k":"dn","t":"↓"},{"b":122,"v":5,"k":"dn","t":"↓"},{"b":129,"v":7.6,"k":"dn","t":"↓"},{"b":144,"v":2.5,"k":"dn","t":"↓"},{"b":147,"v":2.5,"k":"dn","t":"↓"},{"b":154,"v":4.5,"k":"dn","t":"↓"},{"b":115,"v":-1.2,"k":"up","t":"↑"},{"b":161,"v":-1.8,"k":"up","t":"↑"},{"b":164,"v":-2.4,"k":"up","t":"↑"},{"b":166,"v":-2.4,"k":"up","t":"↑"},{"b":169,"v":-2.4,"k":"up","t":"↑"}]
},
"vconcat":[
{"width":754,"height":388,"data":{"name":"lines"},
"encoding":{"x":{"field":"b","type":"quantitative","scale":{"domain":[0,188.5],"nice":false,"zero":false,"padding":0},"axis":null},"y":{"field":"p","type":"quantitative","scale":{"domain":[13288.3,13414],"nice":false,"zero":false},"axis":{"orient":"right","values":[13410.5,13399.5,13388.5,13378,13367,13356,13345,13334,13323,13312,13301,13290],"format":".1f","labelFontSize":10.5,"tickSize":3,"labelPadding":2}}},
"layer":[
{"data":{"name":"blue"},"mark":{"type":"area","color":"#0000FF","clip":true,"opacity":1},"encoding":{"y2":{"field":"q"}}},
{"transform":[{"filter":"datum.g=='graydash'"}],"mark":{"type":"line","clip":true,"color":"#555555","strokeWidth":1,"strokeDash":[4,3]},"encoding":{"detail":{"field":"s"}}},
{"transform":[{"filter":"datum.g=='purple'"}],"mark":{"type":"line","clip":true,"color":"#800080","strokeWidth":1,"strokeDash":[4,4]},"encoding":{"detail":{"field":"s"}}},
{"transform":[{"filter":"datum.g=='purplethick'"}],"mark":{"type":"line","clip":true,"color":"#800080","strokeWidth":2,"strokeDash":[3,3]},"encoding":{"detail":{"field":"s"}}},
{"transform":[{"filter":"datum.g=='navy'"}],"mark":{"type":"line","clip":true,"color":"#000080","strokeWidth":1,"strokeDash":[4,4]},"encoding":{"detail":{"field":"s"}}},
{"transform":[{"filter":"datum.g=='silver'"}],"mark":{"type":"line","clip":true,"color":"#BEBEBE","strokeWidth":1}},
{"transform":[{"filter":"datum.g=='greenhoriz'"}],"mark":{"type":"line","clip":true,"color":"#008000","strokeWidth":1.2,"strokeDash":[10,4,2,4]}},
{"data":{"name":"cloud"},"mark":{"type":"rule","clip":true,"strokeWidth":1.2},"encoding":{"y":{"field":"a","type":"quantitative","scale":{"domain":[13288.3,13414],"nice":false,"zero":false},"axis":null},"y2":{"field":"t"},"color":{"condition":{"test":"datum.a>datum.t","value":"#FF4500"},"value":"#20B2AA"}}},
{"data":{"name":"cloud"},"mark":{"type":"line","clip":true,"color":"#FF4500","strokeWidth":1},"encoding":{"y":{"field":"a","type":"quantitative","scale":{"domain":[13288.3,13414],"nice":false,"zero":false},"axis":null}}},
{"data":{"name":"cloud"},"mark":{"type":"line","clip":true,"color":"#20B2AA","strokeWidth":1},"encoding":{"y":{"field":"t","type":"quantitative","scale":{"domain":[13288.3,13414],"nice":false,"zero":false},"axis":null}}},
{"data":{"name":"candles"},"mark":{"type":"rule","clip":true,"color":"black","strokeWidth":1},"encoding":{"y":{"field":"h","type":"quantitative","scale":{"domain":[13288.3,13414],"nice":false,"zero":false},"axis":null},"y2":{"field":"l"}}},
{"data":{"name":"candles"},"mark":{"type":"bar","clip":true,"width":3,"stroke":"black","strokeWidth":1},"encoding":{"y":{"field":"o","type":"quantitative","scale":{"domain":[13288.3,13414],"nice":false,"zero":false},"axis":null},"y2":{"field":"c"},"fill":{"condition":{"test":"datum.c>=datum.o","value":"white"},"value":"black"}}},
{"transform":[{"filter":"datum.g=='steel'"}],"mark":{"type":"line","clip":true,"color":"#4682B4","strokeWidth":2.6},"encoding":{"detail":{"field":"s"}}},
{"transform":[{"filter":"datum.g=='reddash'"}],"mark":{"type":"line","clip":true,"color":"#FF0000","strokeWidth":1.5,"strokeDash":[4,6]},"encoding":{"detail":{"field":"s"}}},
{"transform":[{"filter":"datum.g=='gray'"}],"mark":{"type":"line","clip":true,"color":"#696969","strokeWidth":2.6},"encoding":{"detail":{"field":"s"}}},
{"transform":[{"filter":"datum.g=='zig'"}],"mark":{"type":"line","clip":true,"color":"#FF00FF","strokeWidth":1}},
{"transform":[{"filter":"datum.g=='green'"}],"mark":{"type":"line","clip":true,"color":"#008000","strokeWidth":1}},
{"transform":[{"filter":"datum.g=='greendash'"}],"mark":{"type":"line","clip":true,"color":"#008000","strokeWidth":2,"strokeDash":[5,3]}},
{"transform":[{"filter":"datum.g=='gold'"}],"mark":{"type":"line","clip":true,"color":"#FFD700","strokeWidth":2}},
{"transform":[{"filter":"datum.g=='cyan'"}],"mark":{"type":"line","clip":true,"color":"#00FFFF","strokeWidth":1.5}},
{"transform":[{"filter":"datum.g=='yellow'"}],"mark":{"type":"line","clip":true,"color":"#FFFF00","strokeWidth":1.5,"strokeDash":[12,6]},"encoding":{"detail":{"field":"s"}}},
{"transform":[{"filter":"datum.g=='lime'"}],"mark":{"type":"line","clip":true,"color":"#7FFF00","strokeWidth":1.2}},
{"data":{"name":"dots"},"transform":[{"filter":"datum.g=='lime'"}],"mark":{"type":"line","clip":true,"color":"#7FFF00","strokeWidth":1,"point":{"filled":true,"size":14,"color":"#ADFF2F"}},"encoding":{"detail":{"field":"s"}}},
{"data":{"name":"dots"},"transform":[{"filter":"datum.g=='red'"}],"mark":{"type":"line","clip":true,"color":"#FF0000","strokeWidth":1,"point":{"filled":true,"size":14,"color":"#FF0000"}},"encoding":{"detail":{"field":"s"}}},
{"data":{"name":"starts"},"mark":{"type":"point","clip":true,"filled":true,"size":70,"opacity":1},"encoding":{"color":{"condition":{"test":"datum.g=='lime'","value":"#ADFF2F"},"value":"#FF0000"}}},
{"data":{"name":"fractals"},"mark":{"type":"point","clip":true,"shape":"triangle-up","size":28,"stroke":"#E8912D","strokeWidth":1,"fill":"#ffffff","fillOpacity":0.15}},
{"data":{"name":"stops"},"mark":{"type":"point","clip":true,"shape":"circle","size":26,"stroke":"#FF0000","strokeWidth":0.8,"filled":false}},
{"data":{"values":[{"b":180.25,"c":182.75,"p":13407.9,"q":13392.6}]},"mark":{"type":"rect","clip":true,"fill":null,"stroke":"#FF0000","strokeWidth":1.2},"encoding":{"x2":{"field":"c"},"y2":{"field":"q"}}},
{"data":{"name":"info"},"mark":{"type":"text","align":"left","baseline":"middle","font":"Liberation Sans","fontSize":9.8,"color":"#111111"},"encoding":{"text":{"field":"t"}}},
{"data":{"name":"fibs"},"mark":{"type":"text","align":"left","baseline":"middle","font":"Liberation Sans","fontSize":10},"encoding":{"text":{"field":"t"},"color":{"condition":[{"test":"datum.k=='pale'","value":"#BDF56A"},{"test":"datum.k=='yellow'","value":"#FFFF33"},{"test":"datum.k=='gray'","value":"#9A9A9A"}],"value":"#8E8EC8"}}},
{"data":{"values":[{"b":160,"p":13335.6,"t":"Stop Loss: 13369.5"},{"b":183,"p":13318.1,"t":"MD"}]},"mark":{"type":"text","align":"left","baseline":"middle","font":"Liberation Sans","fontSize":13.4,"color":"#FF0000","clip":false},"encoding":{"text":{"field":"t"}}},
{"data":{"values":[{"b":188.9,"c":199.6,"p":13407.1,"q":13402.9}]},"mark":{"type":"rect","clip":false,"color":"black"},"encoding":{"x2":{"field":"c"},"y2":{"field":"q"}}},
{"data":{"values":[{"b":190,"p":13405,"t":"13405.0"}]},"mark":{"type":"text","align":"left","baseline":"middle","font":"Liberation Sans","fontSize":10.5,"color":"white","clip":false},"encoding":{"text":{"field":"t"}}},
{"data":{"values":[{"b":186.75,"p":13402.4}]},"mark":{"type":"point","clip":false,"shape":"triangle-left","size":20,"stroke":"#FF0000","filled":false}}
]},
{"width":754,"height":96,"data":{"name":"aroon"},
"encoding":{"x":{"field":"b","type":"quantitative","scale":{"domain":[0,188.5],"nice":false,"zero":false},"axis":null},"y":{"field":"v","type":"quantitative","scale":{"domain":[-5.5,107.4],"nice":false,"zero":false},"axis":{"orient":"right","values":[100,0],"labelExpr":"datum.value==100?'104.6':'4.5'","labelFontSize":10.5,"tickSize":0,"labelPadding":5}}},
"layer":[
{"transform":[{"filter":"datum.s=='dn'"}],"mark":{"type":"line","color":"#FF0000","strokeWidth":1.1,"clip":true}},
{"transform":[{"filter":"datum.s=='up'"}],"mark":{"type":"line","color":"#1E90FF","strokeWidth":1.1,"clip":true}},
{"data":{"values":[{"b":1,"v":95.6,"t":"Aroon Up & Dn(14) 93.0 9.0"}]},"mark":{"type":"text","align":"left","baseline":"middle","font":"Liberation Sans","fontSize":9.6,"color":"#111111"},"encoding":{"text":{"field":"t"}}}
]},
{"width":754,"height":90,"data":{"name":"hist"},
"encoding":{"x":{"field":"b","type":"quantitative","scale":{"domain":[0,188.5],"nice":false,"zero":false},"axis":{"values":[0,16,32,48,64,80,96,112,128,144,160,176],"labelExpr":"['7 Jan 2013','7 Jan 19:45','8 Jan 00:45','8 Jan 04:45','8 Jan 08:45','8 Jan 12:45','8 Jan 16:45','8 Jan 20:45','9 Jan 01:45','9 Jan 05:45','9 Jan 09:45','9 Jan 13:45'][round(datum.value/16)]","labelAlign":"left","labelFontSize":9.7,"labelBound":false,"labelFlush":false,"tickSize":3,"labelPadding":2,"labelOverlap":false}},"y":{"field":"v","type":"quantitative","scale":{"domain":[-13.9,16.9],"nice":false,"zero":false},"axis":{"orient":"right","values":[14.53,0,-12.38],"format":".2f","labelFontSize":10.5,"tickSize":3,"labelPadding":2,"zindex":1}}},
"layer":[
{"mark":{"type":"rule","color":"#BDBDBD","strokeWidth":1,"clip":true},"encoding":{"y2":{"datum":0}}},
{"data":{"values":[{"b":0,"v":0},{"b":188.5,"v":0}]},"mark":{"type":"line","color":"#808080","strokeWidth":1.5,"clip":true}},
{"data":{"name":"macd"},"transform":[{"filter":"datum.s=='sig'"}],"mark":{"type":"line","color":"#FF0000","strokeWidth":1.2,"clip":true}},
{"data":{"name":"macd"},"transform":[{"filter":"datum.s=='m'"}],"mark":{"type":"line","color":"#0000CD","strokeWidth":1.1,"clip":true}},
{"data":{"name":"arrows"},"mark":{"type":"text","font":"DejaVu Sans","fontSize":15,"fontWeight":"bold","baseline":"middle","align":"center"},"encoding":{"text":{"field":"t"},"color":{"condition":{"test":"datum.k=='dn'","value":"#FF0000"},"value":"#008000"}}},
{"data":{"values":[{"b":1,"v":13.65,"t":"MACD(10,20,40) 13.31 1.80 11.51   FX5_MACD_Divergence_v1.1(10, 20, 40) 13.307 1.801"}]},"mark":{"type":"text","align":"left","baseline":"middle","font":"Liberation Sans","fontSize":9.5,"color":"#111111"},"encoding":{"text":{"field":"t"}}},
{"data":{"values":[{"b":0.5,"v":-11.6,"t":"MetaTrader 4, © 2001-2012, MetaQuotes Software Corp."}]},"mark":{"type":"text","align":"left","baseline":"middle","font":"Liberation Sans","fontSize":11.1,"color":"#111111"},"encoding":{"text":{"field":"t"}}},
{"data":{"values":[{"b":189.5,"c":191,"v":2,"q":-2}]},"mark":{"type":"rect","clip":false,"color":"#696969"},"encoding":{"x2":{"field":"c"},"y2":{"field":"q"}}}
]}
]}
